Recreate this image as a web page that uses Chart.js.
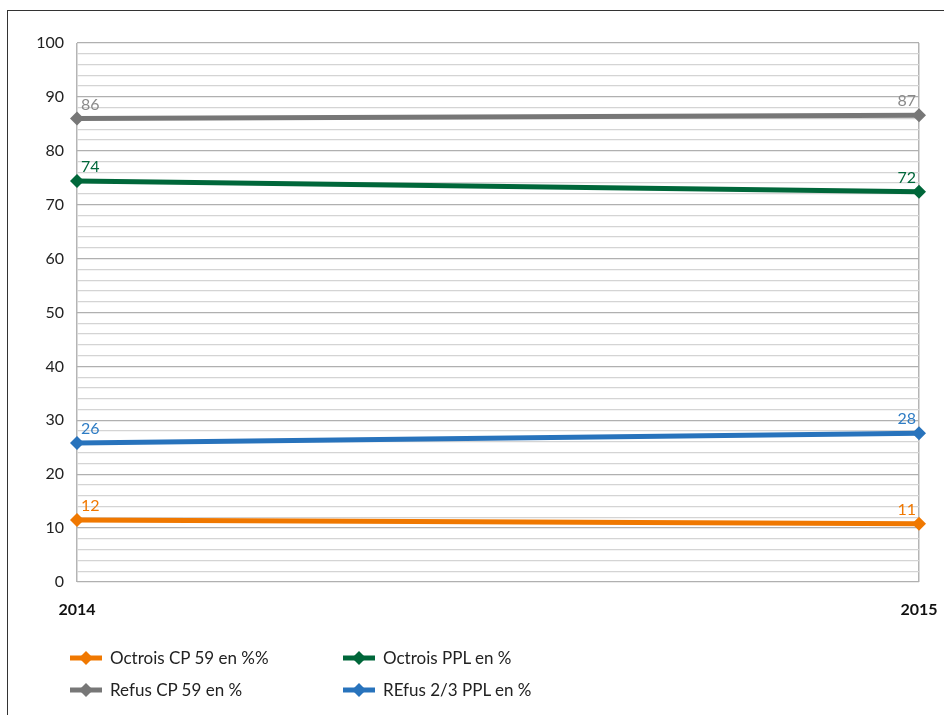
<!DOCTYPE html>
<html>
<head>
<meta charset="utf-8">
<script src="https://cdn.jsdelivr.net/npm/chart.js@4.4.0/dist/chart.umd.min.js"></script>
<style>
  html, body { margin: 0; padding: 0; background: #fff; }
  body { width: 944px; height: 715px; position: relative; overflow: hidden; font-family: Lato, "Open Sans", sans-serif; }
  #frame { position: absolute; left: 7px; top: 10px; width: 1000px; height: 800px; border-left: 1.5px solid #333; border-top: 1.5px solid #333; }
  #wrap { position: absolute; left: 0; top: 0; width: 944px; height: 715px; }
  #legend { position: absolute; left: 70px; top: 647px; width: 600px; }
  .item { position: absolute; display: flex; align-items: center; font-size: 17px; color: #222; white-space: nowrap; }
  .item canvas { margin-right: 8px; }
</style>
</head>
<body>
<div id="frame"></div>
<div id="wrap"><canvas id="c" width="944" height="715"></canvas></div>
<div id="legend"></div>
<script>
const categories = ["2014", "2015"];
const seriesNames = ["Octrois CP 59 en %%", "Refus CP 59 en %", "Octrois PPL en %", "REfus 2/3 PPL en %"];
const octroisCP59 = [11.5, 10.8];
const refusCP59 = [86.0, 86.6];
const octroisPPL = [74.4, 72.4];
const refusPPL = [25.8, 27.6];
const yTicks = [0, 10, 20, 30, 40, 50, 60, 70, 80, 90, 100];

const colors = ["#F07800", "#777777", "#00673A", "#2873BC"];
const labelColors = ["#F07800", "#8A8A8A", "#00673A", "#2E7CC4"];
const seriesData = [octroisCP59, refusCP59, octroisPPL, refusPPL];

const datasets = seriesNames.map((name, i) => ({
  label: name,
  data: seriesData[i],
  borderColor: colors[i],
  backgroundColor: colors[i],
  borderWidth: 5,
  pointStyle: 'rectRot',
  pointRadius: 7,
  pointHoverRadius: 7,
  pointBorderWidth: 0,
  tension: 0,
  order: [1, 0, 2, 3][i]
}));

const valueLabels = {
  id: 'valueLabels',
  afterDatasetsDraw(chart) {
    const ctx = chart.ctx;
    ctx.save();
    ctx.font = '16px Lato, "Open Sans", sans-serif';
    ctx.textBaseline = 'bottom';
    chart.data.datasets.forEach((ds, di) => {
      const meta = chart.getDatasetMeta(di);
      meta.data.forEach((pt, j) => {
        ctx.fillStyle = labelColors[di];
        const txt = String(Math.round(ds.data[j]));
        if (j === 0) { ctx.textAlign = 'left'; ctx.fillText(txt, pt.x + 4, pt.y - 6); }
        else { ctx.textAlign = 'right'; ctx.fillText(txt, pt.x - 3, pt.y - 6); }
      });
    });
    ctx.restore();
  }
};

const chart = new Chart(document.getElementById('c'), {
  type: 'line',
  data: { labels: categories, datasets },
  options: {
    responsive: false,
    animation: false,
    events: [],
    layout: { padding: { left: 0, right: 25, top: 43, bottom: 93 } },
    plugins: { legend: { display: false }, tooltip: { enabled: false } },
    scales: {
      x: {
        type: 'category',
        offset: false,
        grid: { color: '#B5B5B5', lineWidth: 1.5, drawTicks: false },
        border: { display: false },
        ticks: { color: '#111', font: { family: 'Lato, "Open Sans", sans-serif', size: 16, weight: 'bold' }, padding: 18, maxRotation: 0 },
        afterFit(s) { s.height = 40; s.paddingLeft = 0; s.paddingRight = 0; }
      },
      y: {
        min: 0, max: 100,
        afterBuildTicks(s) {
          const t = [];
          for (let v = 0; v <= 100; v += 2) t.push({ value: v });
          s.ticks = t;
        },
        grid: {
          color: (c) => (yTicks.includes(c.tick.value) ? '#B0B0B0' : '#D4D4D4'),
          lineWidth: 1.3,
          drawTicks: false
        },
        border: { display: false },
        ticks: {
          autoSkip: false,
          color: '#222',
          font: { family: 'Lato, "Open Sans", sans-serif', size: 16 },
          padding: 13,
          callback: (v) => (yTicks.includes(v) ? String(v) : '')
        },
        afterFit(s) { s.width = 77; s.paddingTop = 0; s.paddingBottom = 0; }
      }
    }
  },
  plugins: [valueLabels]
});

// HTML legend, 2 columns
const legend = document.getElementById('legend');
const order = [0, 2, 1, 3];
order.forEach((di, k) => {
  const ds = chart.data.datasets[di];
  const item = document.createElement('div');
  item.className = 'item';
  item.style.left = (k % 2 === 0 ? 0 : 273) + 'px';
  item.style.top = (k < 2 ? 0 : 32) + 'px';
  const mk = document.createElement('canvas');
  mk.width = 32; mk.height = 16;
  const mc = mk.getContext('2d');
  mc.strokeStyle = ds.borderColor; mc.lineWidth = 5;
  mc.beginPath(); mc.moveTo(0, 8); mc.lineTo(32, 8); mc.stroke();
  mc.fillStyle = ds.borderColor;
  mc.beginPath(); mc.moveTo(16, 1); mc.lineTo(23, 8); mc.lineTo(16, 15); mc.lineTo(9, 8); mc.closePath(); mc.fill();
  item.appendChild(mk);
  const sp = document.createElement('span');
  sp.textContent = ds.label;
  item.appendChild(sp);
  legend.appendChild(item);
});
</script>
</body>
</html>
